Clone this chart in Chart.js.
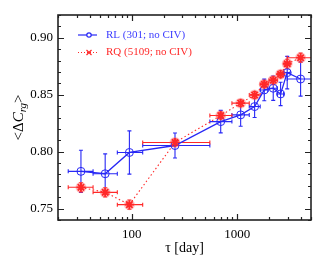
<!DOCTYPE html>
<html>
<head>
<meta charset="utf-8">
<script src="https://cdn.jsdelivr.net/npm/chart.js@4.4.0/dist/chart.umd.min.js"></script>
<style>
html, body { margin: 0; padding: 0; background: #fff; }
#wrap { width: 324px; height: 259px; }
</style>
</head>
<body>
<div id="wrap"><canvas id="c" width="324" height="259"></canvas></div>
<script>
// time lag bins (days): centre and edges
const tau     = [33, 56, 95, 257, 697, 1077, 1461, 1803, 2193, 2575, 2975, 3985];
const tauLow  = [25, 43, 73, 127, 550, 890, 1300, 1650, 2000, 2400, 2780, 2975];
const tauHigh = [43, 73, 127, 550, 890, 1300, 1650, 1960, 2400, 2750, 3180, 6000];

// radio-loud sample
const rlMean = [0.7827, 0.7806, 0.7993, 0.8054, 0.8264, 0.8323, 0.8396, 0.8542, 0.8557, 0.8507, 0.8694, 0.8638];
const rlErr  = [0.0185, 0.0175, 0.0190, 0.0110, 0.0099, 0.0100, 0.0096, 0.0095, 0.0107, 0.0103, 0.0143, 0.0150];

// radio-quiet sample
const rqMean = [0.7687, 0.7643, 0.7535, 0.8081, 0.8317, 0.8426, 0.8498, 0.8592, 0.8627, 0.8680, 0.8772, 0.8825];
const rqErr  = [0.0040, 0.0040, 0.0040, 0.0030, 0.0030, 0.0030, 0.0030, 0.0030, 0.0030, 0.0030, 0.0040, 0.0040];

const yMajor = [0.75, 0.80, 0.85, 0.90];
const xMajor = [100, 1000];

const BLUE = 'rgb(40,40,245)';
const RED = 'rgb(255,40,40)';
const SERIF = '"Liberation Serif", "DejaVu Serif", serif';

const series = [
    { mean: rlMean, err: rlErr, color: BLUE },
    { mean: rqMean, err: rqErr, color: RED },
];

const errorBars = {
    id: 'errorBars',
    beforeDatasetsDraw(chart) {
        const { ctx, chartArea: a, scales: { x, y } } = chart;
        ctx.save();
        ctx.beginPath();
        ctx.rect(a.left, a.top, a.right - a.left, a.bottom - a.top);
        ctx.clip();
        ctx.lineWidth = 1.1;
        series.forEach(s => {
            ctx.strokeStyle = s.color;
            tau.forEach((t, i) => {
                const px = x.getPixelForValue(t);
                const py = y.getPixelForValue(s.mean[i]);
                const x0 = x.getPixelForValue(tauLow[i]);
                const x1 = x.getPixelForValue(tauHigh[i]);
                const y0 = y.getPixelForValue(s.mean[i] - s.err[i]);
                const y1 = y.getPixelForValue(s.mean[i] + s.err[i]);
                ctx.beginPath();
                ctx.moveTo(x0, py); ctx.lineTo(x1, py);
                ctx.moveTo(x0, py - 2); ctx.lineTo(x0, py + 2);
                ctx.moveTo(x1, py - 2); ctx.lineTo(x1, py + 2);
                ctx.moveTo(px, y0); ctx.lineTo(px, y1);
                ctx.moveTo(px - 2, y0); ctx.lineTo(px + 2, y0);
                ctx.moveTo(px - 2, y1); ctx.lineTo(px + 2, y1);
                ctx.stroke();
            });
        });
        // soft halo behind the RQ stars
        ctx.fillStyle = 'rgba(255,90,90,0.35)';
        tau.forEach((t, i) => {
            ctx.beginPath();
            ctx.arc(x.getPixelForValue(t), y.getPixelForValue(rqMean[i]), 5.5, 0, Math.PI * 2);
            ctx.fill();
        });
        ctx.restore();
    }
};

const frame = {
    id: 'frame',
    afterDraw(chart) {
        const { ctx, chartArea: a, scales: { x, y } } = chart;
        ctx.save();
        ctx.strokeStyle = '#222';
        ctx.lineWidth = 1.2;
        ctx.beginPath();
        // x ticks, bottom and top
        for (let d = 1; d <= 1000; d *= 10) {
            for (let k = 1; k <= 9; k++) {
                const v = k * d;
                if (v < x.min || v > x.max) continue;
                const px = Math.round(x.getPixelForValue(v)) + 0.5;
                const len = k === 1 ? 6 : 3;
                ctx.moveTo(px, a.bottom); ctx.lineTo(px, a.bottom - len);
                ctx.moveTo(px, a.top); ctx.lineTo(px, a.top + len);
            }
        }
        // y ticks, left and right
        for (let i = 74; i <= 92; i++) {
            const v = i / 100;
            const py = Math.round(y.getPixelForValue(v)) + 0.5;
            const len = i % 5 === 0 ? 6 : 3;
            ctx.moveTo(a.left, py); ctx.lineTo(a.left + len, py);
            ctx.moveTo(a.right, py); ctx.lineTo(a.right - len, py);
        }
        ctx.stroke();
        ctx.lineWidth = 1.6;
        ctx.strokeRect(a.left, a.top, a.right - a.left, a.bottom - a.top);

        // axis titles
        ctx.fillStyle = '#000';
        ctx.textBaseline = 'middle';
        ctx.textAlign = 'center';
        ctx.font = '14px ' + SERIF;
        ctx.fillText('τ [day]', (a.left + a.right) / 2, 248);

        ctx.translate(19, (a.top + a.bottom) / 2);
        ctx.rotate(-Math.PI / 2);
        ctx.textAlign = 'left';
        const parts = [
            { t: '<Δ', f: '15px ' + SERIF, dy: 0 },
            { t: 'C', f: 'italic 15px ' + SERIF, dy: 0 },
            { t: 'rg', f: 'italic 11px ' + SERIF, dy: 4 },
            { t: '>', f: '15px ' + SERIF, dy: 0 },
        ];
        let w = 0;
        parts.forEach(p => { ctx.font = p.f; w += ctx.measureText(p.t).width; });
        let cx = -w / 2;
        parts.forEach(p => {
            ctx.font = p.f;
            ctx.fillText(p.t, cx, p.dy);
            cx += ctx.measureText(p.t).width;
        });
        ctx.restore();

        // legend
        ctx.save();
        ctx.font = '11px ' + SERIF;
        ctx.textBaseline = 'middle';
        ctx.lineWidth = 1.2;
        ctx.strokeStyle = BLUE;
        ctx.beginPath(); ctx.moveTo(78, 35); ctx.lineTo(97, 35); ctx.stroke();
        ctx.beginPath(); ctx.arc(89, 35, 2.2, 0, Math.PI * 2); ctx.fillStyle = '#fff'; ctx.fill(); ctx.stroke();
        ctx.fillStyle = 'rgb(60,60,255)';
        ctx.fillText('RL (301; no CIV)', 106, 35);

        ctx.strokeStyle = RED;
        ctx.setLineDash([1, 2]);
        ctx.beginPath(); ctx.moveTo(78, 52.5); ctx.lineTo(97, 52.5); ctx.stroke();
        ctx.setLineDash([]);
        ctx.beginPath();
        ctx.moveTo(86.5, 50); ctx.lineTo(91.5, 55);
        ctx.moveTo(91.5, 50); ctx.lineTo(86.5, 55);
        ctx.stroke();
        ctx.fillStyle = RED;
        ctx.fillText('RQ (5109; no CIV)', 106, 52.5);
        ctx.restore();
    }
};

new Chart(document.getElementById('c'), {
    type: 'scatter',
    data: {
        datasets: [
            {
                label: 'RL (301; no CIV)',
                data: tau.map((t, i) => ({ x: t, y: rlMean[i] })),
                showLine: true,
                borderColor: BLUE,
                borderWidth: 1.3,
                pointStyle: 'circle',
                pointRadius: 4,
                pointBorderWidth: 1,
                pointBorderColor: BLUE,
                pointBackgroundColor: 'rgba(0,0,0,0)',
                order: 1,
            },
            {
                label: 'RQ (5109; no CIV)',
                data: tau.map((t, i) => ({ x: t, y: rqMean[i] })),
                showLine: true,
                borderColor: RED,
                borderWidth: 1.1,
                borderDash: [1.5, 2.5],
                pointStyle: 'star',
                pointRadius: 4.5,
                pointBorderWidth: 1.8,
                pointBorderColor: RED,
                pointBackgroundColor: RED,
                order: 0,
            },
        ],
    },
    options: {
        responsive: false,
        animation: false,
        layout: { padding: { left: 0, right: 13, top: 15, bottom: 0 } },
        plugins: { legend: { display: false }, tooltip: { enabled: false } },
        scales: {
            x: {
                type: 'logarithmic',
                min: 20,
                max: 5000,
                grid: { display: false, drawTicks: false },
                border: { display: false },
                afterBuildTicks: s => { s.ticks = xMajor.map(v => ({ value: v })); },
                afterFit: s => { s.height = 39; },
                ticks: {
                    padding: 7,
                    color: '#000',
                    font: { family: SERIF, size: 13 },
                    callback: v => String(v),
                },
            },
            y: {
                min: 0.74,
                max: 0.92,
                grid: { display: false, drawTicks: false },
                border: { display: false },
                afterBuildTicks: s => { s.ticks = yMajor.map(v => ({ value: v })); },
                afterFit: s => { s.width = 58; },
                ticks: {
                    padding: 5,
                    color: '#000',
                    font: { family: SERIF, size: 13 },
                    callback: v => v.toFixed(2),
                },
            },
        },
    },
    plugins: [errorBars, frame],
});
</script>
</body>
</html>
